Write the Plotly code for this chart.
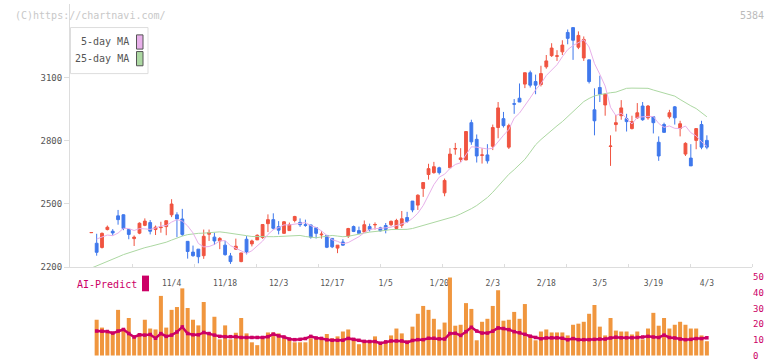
import numpy as np
import pandas as pd
import plotly.graph_objects as go

# ---------------- data ----------------
opens = [2363, 2313, 2293, 2378, 2370, 2443, 2448, 2378, 2335, 2361,
         2398, 2411, 2378, 2387, 2392, 2448, 2448, 2428, 2322, 2271,
         2285, 2254, 2356, 2342, 2324, 2304, 2253, 2285, 2226, 2332,
         2310, 2329, 2340, 2406, 2425, 2392, 2360, 2373, 2421, 2412,
         2401, 2400, 2387, 2353, 2350, 2336, 2290, 2319, 2347, 2392,
         2373, 2366, 2392, 2400, 2386, 2397, 2401, 2383, 2398, 2435,
         2513, 2494, 2573, 2639, 2648, 2671, 2552, 2671, 2760, 2710,
         2708, 2885, 2806, 2730, 2732, 2773, 2862, 2904, 2769, 2975,
         3001, 3068, 3122, 3080, 3066, 3150, 3203, 3200, 3221, 3313,
         3336, 3243, 3192, 3183, 2946, 3052, 2969, 2772, 2876, 2918,
         2904, 2857, 2908, 2964, 2908, 2913, 2792, 2876, 2913, 2960,
         2857, 2736, 2717, 2801, 2876, 2801]
highs = [2364, 2358, 2364, 2397, 2380, 2471, 2450, 2378, 2350, 2412,
         2431, 2423, 2397, 2415, 2421, 2522, 2460, 2476, 2322, 2302,
         2285, 2378, 2378, 2363, 2342, 2324, 2267, 2335, 2267, 2347,
         2330, 2355, 2403, 2450, 2455, 2418, 2418, 2411, 2443, 2431,
         2425, 2400, 2387, 2370, 2350, 2336, 2304, 2332, 2386, 2397,
         2392, 2421, 2406, 2412, 2391, 2409, 2421, 2429, 2466, 2462,
         2513, 2545, 2601, 2690, 2699, 2676, 2620, 2764, 2789, 2764,
         2843, 2899, 2829, 2764, 2783, 2876, 2983, 2936, 2880, 2997,
         3071, 3122, 3132, 3113, 3155, 3206, 3262, 3229, 3276, 3327,
         3336, 3318, 3294, 3183, 3048, 3108, 3025, 2825, 2922, 2992,
         2927, 2918, 2978, 2983, 2969, 2913, 2820, 2885, 2946, 2964,
         2894, 2792, 2783, 2857, 2894, 2825]
lows = [2363, 2254, 2288, 2374, 2350, 2401, 2375, 2332, 2300, 2356,
        2394, 2355, 2352, 2363, 2351, 2437, 2342, 2347, 2240, 2249,
        2218, 2239, 2324, 2305, 2285, 2254, 2215, 2282, 2223, 2260,
        2298, 2329, 2334, 2366, 2377, 2355, 2358, 2373, 2412, 2391,
        2391, 2335, 2336, 2335, 2290, 2290, 2266, 2301, 2338, 2366,
        2360, 2366, 2369, 2378, 2369, 2360, 2394, 2378, 2386, 2409,
        2460, 2471, 2533, 2615, 2643, 2639, 2536, 2671, 2733, 2699,
        2708, 2780, 2696, 2691, 2691, 2755, 2811, 2862, 2760, 2927,
        2983, 3049, 3052, 3020, 3057, 3141, 3197, 3178, 3206, 3257,
        3183, 3234, 3178, 3071, 2825, 2983, 2918, 2680, 2843, 2899,
        2843, 2853, 2904, 2894, 2899, 2834, 2704, 2839, 2904, 2876,
        2820, 2727, 2680, 2759, 2759, 2759]
closes = [2364, 2270, 2360, 2389, 2362, 2425, 2383, 2355, 2342, 2408,
          2418, 2370, 2389, 2389, 2420, 2499, 2428, 2355, 2274, 2254,
          2249, 2346, 2364, 2324, 2336, 2259, 2226, 2299, 2267, 2272,
          2324, 2351, 2402, 2425, 2384, 2375, 2415, 2401, 2440, 2401,
          2398, 2342, 2360, 2356, 2294, 2296, 2304, 2304, 2383, 2369,
          2360, 2401, 2378, 2402, 2372, 2378, 2417, 2421, 2429, 2416,
          2471, 2541, 2601, 2667, 2676, 2648, 2611, 2736, 2762, 2718,
          2843, 2794, 2727, 2732, 2704, 2862, 2955, 2871, 2871, 2973,
          2983, 3122, 3063, 3063, 3118, 3178, 3239, 3202, 3253, 3285,
          3276, 3299, 3280, 3080, 2894, 3020, 3020, 2774, 2885, 2955,
          2890, 2890, 2932, 2899, 2964, 2885, 2727, 2839, 2932, 2908,
          2880, 2787, 2680, 2857, 2769, 2769]

# 25-day moving average at every candle
ma25 = [2195, 2205, 2215, 2226, 2237, 2248, 2259, 2268, 2276, 2284,
        2292, 2298, 2304, 2311, 2318, 2328, 2338, 2347, 2354, 2358,
        2360, 2361, 2363, 2365, 2367, 2364, 2361, 2358, 2354, 2349,
        2345, 2344, 2344, 2344, 2344, 2345, 2346, 2347, 2347, 2350,
        2345, 2341, 2339, 2343, 2346, 2350, 2347, 2344, 2346, 2352,
        2358, 2361, 2366, 2368, 2370, 2374, 2378, 2378, 2378, 2379,
        2383, 2390, 2397, 2404, 2410, 2418, 2426, 2434, 2441, 2452,
        2464, 2477, 2492, 2510, 2530, 2555, 2585, 2615, 2640, 2662,
        2685, 2711, 2745, 2780, 2805, 2828, 2850, 2870, 2890, 2913,
        2940, 2962, 2985, 3000, 3012, 3018, 3024, 3027, 3030, 3040,
        3048, 3049, 3049, 3049, 3048, 3040, 3032, 3025, 3018, 3011,
        2995, 2978, 2965, 2952, 2933, 2913]
# first values of the 5-day MA (need days before the window)
ma5_head = [None, 2333, 2344, 2352]

# volume (scaled to the 0-50 right axis) and AI-Predict, candles 1..115
volume = [22.8, 17.8, 14.5, 14.1, 29.1, 17.2, 23.9, 11.4, 14.1, 22.8,
          17.2, 16.6, 38.0, 17.8, 29.1, 30.9, 42.8, 30.3, 22.8, 19.2,
          34.1, 14.1, 24.7, 10.3, 19.2, 10.3, 14.5, 23.9, 14.1, 8.4,
          6.6, 11.0, 14.7, 14.7, 14.1, 11.0, 10.3, 8.4, 8.4, 8.4,
          11.0, 11.0, 11.0, 13.7, 11.0, 12.2, 15.3, 16.6, 11.0, 7.2,
          8.4, 8.4, 12.2, 7.2, 8.4, 12.8, 17.2, 14.1, 9.7, 18.4,
          26.6, 31.6, 29.1, 23.4, 16.6, 21.0, 49.7, 19.0, 19.6, 33.4,
          29.7, 9.7, 21.5, 23.4, 31.6, 41.6, 22.2, 22.8, 27.8, 23.4,
          32.8, 12.8, 9.7, 15.3, 16.6, 14.7, 14.7, 14.7, 12.8, 19.6,
          20.3, 21.5, 26.6, 32.2, 18.4, 12.8, 23.9, 15.9, 15.3, 15.3,
          13.4, 15.3, 10.3, 17.2, 27.2, 19.0, 23.9, 17.2, 19.6, 21.5,
          19.6, 17.2, 17.2, 12.8, 9.1]
ai_predict = [15.6, 15.5, 15.3, 14.3, 15.6, 16.6, 14.0, 11.8, 13.2, 13.0,
              13.4, 11.0, 14.0, 12.2, 13.0, 15.0, 18.2, 14.0, 13.2, 13.2,
              14.7, 14.0, 13.0, 12.2, 12.0, 12.0, 12.0, 11.5, 11.5, 11.5,
              11.5, 11.5, 12.0, 13.6, 12.5, 11.8, 10.5, 10.1, 10.3, 10.8,
              12.2, 11.2, 10.9, 10.0, 9.7, 9.7, 9.7, 10.9, 10.3, 9.7,
              9.0, 8.9, 8.9, 7.8, 8.7, 9.3, 9.3, 9.3, 8.4, 9.6,
              10.1, 10.1, 11.0, 11.0, 10.6, 10.5, 14.0, 14.2, 12.8, 15.2,
              18.0, 15.6, 14.3, 14.3, 15.5, 17.6, 17.2, 16.5, 15.2, 14.5,
              13.5, 12.3, 11.5, 10.7, 11.2, 11.3, 11.3, 11.0, 10.0, 10.8,
              10.1, 10.1, 10.1, 10.3, 10.5, 10.5, 11.2, 11.7, 11.3, 11.3,
              11.3, 11.5, 11.8, 12.2, 11.8, 11.5, 13.0, 11.5, 11.2, 10.5,
              10.1, 10.3, 10.8, 10.8, 11.3]

date_labels = ["11/4", "11/18", "12/3", "12/17", "1/5", "1/20",
               "2/3", "2/18", "3/5", "3/19", "4/3"]
date_label_idx = [15, 25, 35, 45, 55, 65, 75, 85, 95, 105, 115]
price_ticks = [2200, 2500, 2800, 3100]
vol_ticks = [0, 10, 20, 30, 40, 50]

# ---------------- derived ----------------
n = len(closes)
idx = list(range(n))
ma5 = pd.Series(closes, dtype=float).rolling(5).mean().tolist()
ma5 = ma5_head + ma5[len(ma5_head):]

# ---------------- styling ----------------
W, H = 772, 361
ML, MR, MT, MB = 70, 20, 0, 2
PW, PH = W - ML - MR, H - MT - MB
RED = "#f05440"
BLUE = "#3f78ec"
ORANGE = "#f0963e"
CRIMSON = "#cc0066"
PINK = "#e8b0ea"
GREEN = "#acd8a2"
MONO = "DejaVu Sans Mono, Liberation Mono, monospace"


def px_x(p):
    return (p - ML) / PW


def px_y(p):
    return (H - MB - p) / PH


x_range = [-3.98, 123.43]
main_dom = [px_y(268.3), 1.0]
# volume panel: value 0 at y=358.5 px, 50 at y=278.5 px; pad range slightly
vol_top_px = 277.5
vol_per_px = 50 / 80.0
vol_range = [-(359.0 - 358.5) * vol_per_px, 50 + (278.5 - vol_top_px) * vol_per_px]
vol_dom = [0.0, px_y(vol_top_px)]

fig = go.Figure()
fig.add_trace(go.Candlestick(
    x=idx, open=opens, high=highs, low=lows, close=closes,
    increasing=dict(line=dict(color=RED, width=1), fillcolor=RED),
    decreasing=dict(line=dict(color=BLUE, width=1), fillcolor=BLUE),
    whiskerwidth=0, showlegend=False, hoverinfo="skip",
    xaxis="x", yaxis="y"))
fig.add_trace(go.Scatter(x=idx, y=ma25, mode="lines",
                         line=dict(color=GREEN, width=1),
                         showlegend=False, hoverinfo="skip", xaxis="x", yaxis="y"))
fig.add_trace(go.Scatter(x=idx, y=ma5, mode="lines",
                         line=dict(color=PINK, width=1),
                         showlegend=False, hoverinfo="skip", xaxis="x", yaxis="y"))
fig.add_trace(go.Bar(x=idx[1:], y=volume, marker=dict(color=ORANGE, line=dict(width=0)),
                     width=0.75, showlegend=False, hoverinfo="skip",
                     xaxis="x2", yaxis="y2"))
fig.add_trace(go.Scatter(x=idx[1:], y=ai_predict, mode="lines+markers",
                         line=dict(color=CRIMSON, width=2.5),
                         marker=dict(symbol="square", size=3.5, color=CRIMSON),
                         showlegend=False, hoverinfo="skip", xaxis="x2", yaxis="y2"))

grid_ticks = list(np.linspace(x_range[0], x_range[1], 12)[1:])

fig.update_layout(
    width=W, height=H,
    margin=dict(l=ML, r=MR, t=MT, b=MB),
    paper_bgcolor="white", plot_bgcolor="white",
    boxgap=0.25,
    showlegend=False,
    xaxis=dict(domain=[0, 1], range=x_range, anchor="y",
               showgrid=False, zeroline=False, showline=True, linecolor="#dddddd",
               ticks="", tickvals=date_label_idx, ticktext=date_labels,
               ticklabelstandoff=8,
               tickfont=dict(family=MONO, size=8, color="#555555"),
               minor=dict(tickvals=grid_ticks, ticks="inside", ticklen=3,
                          tickcolor="#dddddd", showgrid=False),
               rangeslider=dict(visible=False), fixedrange=True),
    yaxis=dict(domain=main_dom, range=[2200, 3448], anchor="x",
               showgrid=False, zeroline=False, showline=True, linecolor="#dddddd",
               ticks="outside", ticklen=5, tickcolor="#dddddd",
               tickvals=price_ticks, tickfont=dict(family=MONO, size=9, color="#555555")),
    xaxis2=dict(domain=[0, 1], range=x_range, anchor="y2", matches="x",
                showgrid=False, zeroline=False, showline=False, ticks="",
                showticklabels=False),
    yaxis2=dict(domain=vol_dom, range=vol_range, anchor="x2", side="right",
                showgrid=False, zeroline=False, showline=False, ticks="",
                ticklabeloverflow="allow",
                tickvals=vol_ticks, tickfont=dict(family=MONO, size=9, color=CRIMSON)),
)

shapes = [
    # MA legend box
    dict(type="rect", xref="paper", yref="paper",
         x0=px_x(70.5), x1=px_x(148), y0=px_y(71), y1=px_y(24),
         line=dict(color="#dddddd", width=1), fillcolor="white", layer="above"),
    dict(type="rect", xref="paper", yref="paper",
         x0=px_x(136.5), x1=px_x(143), y0=px_y(46), y1=px_y(31.5),
         line=dict(color="#555555", width=1), fillcolor=PINK, layer="above"),
    dict(type="rect", xref="paper", yref="paper",
         x0=px_x(136.5), x1=px_x(143), y0=px_y(63), y1=px_y(48.5),
         line=dict(color="#555555", width=1), fillcolor=GREEN, layer="above"),
    # AI-Predict swatch
    dict(type="rect", xref="paper", yref="paper",
         x0=px_x(142), x1=px_x(149), y0=px_y(293), y1=px_y(277),
         line=dict(width=0), fillcolor=CRIMSON, layer="above"),
]
annotations = [
    dict(text="5-day MA", xref="paper", yref="paper", x=px_x(131), y=px_y(38.5),
         xanchor="right", yanchor="middle", showarrow=False,
         font=dict(family=MONO, size=10, color="#555555")),
    dict(text="25-day MA", xref="paper", yref="paper", x=px_x(131), y=px_y(55.5),
         xanchor="right", yanchor="middle", showarrow=False,
         font=dict(family=MONO, size=10, color="#555555")),
    dict(text="AI-Predict", xref="paper", yref="paper", x=px_x(75), y=px_y(286),
         xanchor="left", yanchor="middle", showarrow=False,
         font=dict(family=MONO, size=10, color=CRIMSON)),
    dict(text="(C)https://chartnavi.com/", xref="paper", yref="paper",
         x=px_x(13), y=px_y(12), xanchor="left", yanchor="middle", showarrow=False,
         font=dict(family=MONO, size=10, color="#c8c8c8")),
    dict(text="5384", xref="paper", yref="paper",
         x=px_x(766), y=px_y(12), xanchor="right", yanchor="middle", showarrow=False,
         font=dict(family=MONO, size=10, color="#bbbbbb")),
]
fig.update_layout(shapes=shapes, annotations=annotations)

fig.write_html("out.html", config=dict(displayModeBar=False, staticPlot=True),
               post_script="document.body.style.margin='0';document.body.style.overflow='hidden';")
